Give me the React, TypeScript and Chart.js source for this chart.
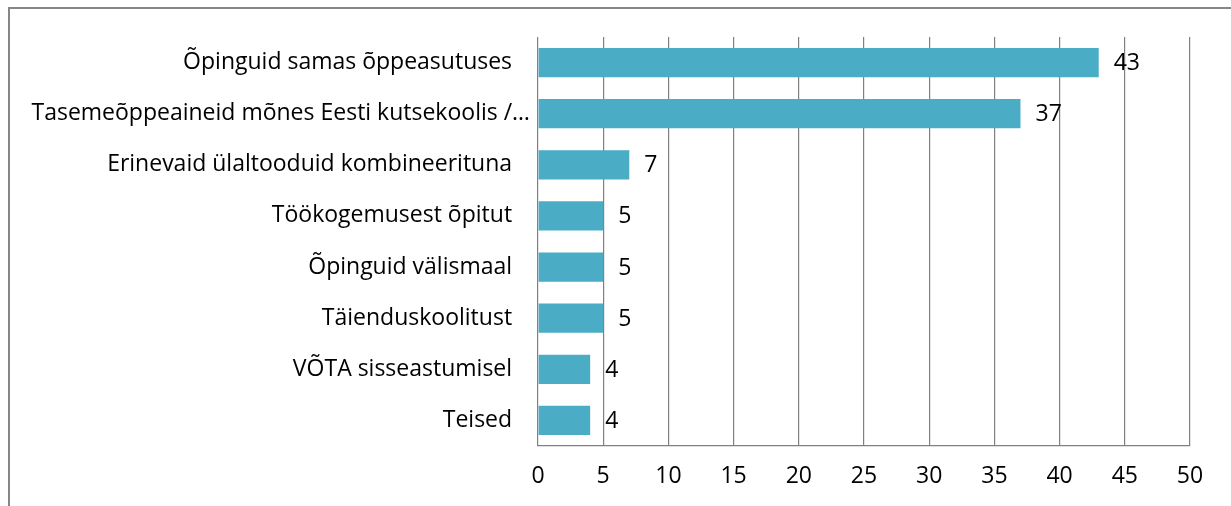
import React, { useEffect, useRef } from "react";
import { Chart, registerables } from "chart.js";

Chart.register(...registerables);

const categories = [
  "Õpinguid samas õppeasutuses",
  "Tasemeõppeaineid mõnes Eesti kutsekoolis /…",
  "Erinevaid ülaltooduid kombineerituna",
  "Töökogemusest õpitut",
  "Õpinguid välismaal",
  "Täienduskoolitust",
  "VÕTA sisseastumisel",
  "Teised",
];
const values = [43, 37, 7, 5, 5, 5, 4, 4];
const xTicks = [0, 5, 10, 15, 20, 25, 30, 35, 40, 45, 50];

const FONT = "'Open Sans', sans-serif";
const FONT_SIZE = 23;
const BAR_COLOR = "#4BACC6";
const GRID_COLOR = "#808080";

const frame = {
  id: "frame",
  beforeDraw(chart: any) {
    const ctx = chart.ctx;
    ctx.save();
    ctx.strokeStyle = "#868686";
    ctx.lineWidth = 2;
    ctx.beginPath();
    ctx.moveTo(9, chart.height);
    ctx.lineTo(9, 8);
    ctx.lineTo(chart.width, 8);
    ctx.stroke();
    ctx.restore();
  },
};

const dataLabels = {
  id: "dataLabels",
  afterDatasetsDraw(chart: any) {
    const ctx = chart.ctx;
    const meta = chart.getDatasetMeta(0);
    ctx.save();
    ctx.font = `${FONT_SIZE}px ${FONT}`;
    ctx.fillStyle = "#000";
    ctx.textAlign = "left";
    ctx.textBaseline = "middle";
    meta.data.forEach((bar: any, i: number) => {
      ctx.fillText(String(values[i]), bar.x + 15, bar.y + 1);
    });
    ctx.restore();
  },
};

export default function App() {
  const ref = useRef<HTMLCanvasElement>(null);
  useEffect(() => {
    if (!ref.current) return;
    const chart = new Chart(ref.current, {
      type: "bar",
      data: {
        labels: categories,
        datasets: [
          {
            data: values,
            backgroundColor: BAR_COLOR,
            borderWidth: 0,
            categoryPercentage: 1,
            barPercentage: 0.57,
          },
        ],
      },
      options: {
        indexAxis: "y",
        responsive: false,
        animation: false,
        layout: { padding: { left: 0, right: 41, top: 37, bottom: 0 } },
        plugins: { legend: { display: false }, tooltip: { enabled: false } },
        scales: {
          x: {
            min: 0,
            max: 50,
            afterBuildTicks: (axis: any) => {
              axis.ticks = xTicks.map((v) => ({ value: v }));
            },
            afterFit: (axis: any) => {
              axis.height = 60;
            },
            grid: { color: GRID_COLOR, lineWidth: 1.2, drawTicks: false },
            border: { display: true, color: GRID_COLOR, width: 1.2 },
            ticks: {
              color: "#000",
              font: { family: FONT, size: FONT_SIZE },
              padding: 17,
              maxRotation: 0,
            },
          },
          y: {
            afterFit: (axis: any) => {
              axis.width = 538;
            },
            grid: { display: false, drawTicks: false },
            border: { display: false },
            ticks: {
              color: "#000",
              font: { family: FONT, size: FONT_SIZE },
              padding: 8,
              autoSkip: false,
              callback: (_v: any, i: number) =>
                categories[i].endsWith("…") ? categories[i] : categories[i] + "   ",
            },
          },
        },
      },
      plugins: [frame, dataLabels],
    });
    return () => chart.destroy();
  }, []);
  return (
    <canvas
      ref={ref}
      width={1231}
      height={506}
      style={{ position: "fixed", left: 0, top: 0, width: 1231, height: 506 }}
    />
  );
}
